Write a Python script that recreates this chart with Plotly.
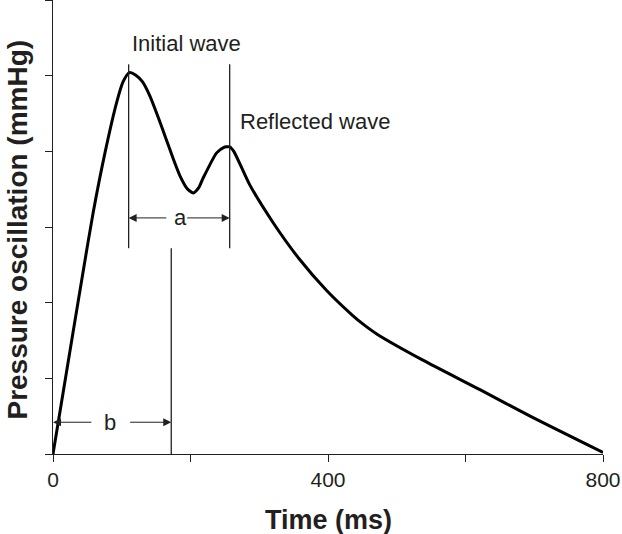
import plotly.graph_objects as go

# ---- data ----
time_ms = [0, 14.5, 29, 43.6, 58.2, 75.6, 93, 102, 111, 120, 130, 141, 153, 165, 175, 185, 195, 204, 212, 218,
           238, 248, 257, 263, 286, 320, 358, 398, 436, 452, 472, 538, 621, 694, 800]
pressure = [0, 0.80, 1.60, 2.40, 3.18, 3.98, 4.66, 4.92, 5.04, 5.01, 4.92, 4.73, 4.45, 4.15, 3.90, 3.67, 3.51, 3.45,
            3.52, 3.64, 3.98, 4.05, 4.06, 4.0, 3.56, 3.06, 2.58, 2.16, 1.83, 1.71, 1.58, 1.24, 0.85, 0.50, 0.02]

x_tick_vals = [0, 200, 400, 600, 800]
x_tick_text = ["0", "", "400", "", "800"]
y_tick_vals = [0, 1, 2, 3, 4, 5, 6]

initial_peak_t = 110
reflected_peak_t = 257
b_marker_t = 172

INK = "#231f20"
FONT = "Liberation Sans, Arial, sans-serif"

fig = go.Figure()
fig.add_trace(go.Scatter(x=time_ms, y=pressure, mode="lines",
                         line=dict(color="black", width=3, shape="spline", smoothing=0.6),
                         hoverinfo="skip", showlegend=False))

shapes = []
for t in (initial_peak_t, reflected_peak_t):
    shapes.append(dict(type="line", xref="x", yref="y", x0=t, x1=t, y0=2.72, y1=5.15,
                       line=dict(color=INK, width=1.3)))
shapes.append(dict(type="line", xref="x", yref="y", x0=b_marker_t, x1=b_marker_t, y0=0, y1=2.72,
                   line=dict(color=INK, width=1.3)))

ann = []
def arrow(head, tail, y):
    ann.append(dict(x=head, y=y, ax=tail, ay=y, xref="x", yref="y", axref="x", ayref="y",
                    text="", showarrow=True, arrowhead=2, arrowsize=1.6, arrowwidth=1,
                    arrowcolor=INK, standoff=0, startstandoff=0))

# interval a
arrow(initial_peak_t, 167, 3.12)
arrow(reflected_peak_t, 193, 3.12)
ann.append(dict(x=(initial_peak_t + reflected_peak_t) / 2 + 2, y=3.12, text="a", showarrow=False,
                xref="x", yref="y", font=dict(size=22, color=INK, family=FONT)))
# interval b
arrow(0, 58, 0.42)
arrow(b_marker_t, 110, 0.42)
ann.append(dict(x=83, y=0.42, text="b", showarrow=False, xref="x", yref="y",
                font=dict(size=22, color=INK, family=FONT)))

ann.append(dict(x=initial_peak_t + 2, y=5.42, text="Initial wave", showarrow=False, xref="x", yref="y",
                xanchor="left", font=dict(size=22, color=INK, family=FONT)))
ann.append(dict(x=reflected_peak_t + 12, y=4.4, text="Reflected wave", showarrow=False, xref="x", yref="y",
                xanchor="left", font=dict(size=22, color=INK, family=FONT)))

# axis titles placed as paper-anchored text
ann.append(dict(x=0.5, y=-0.145, xref="paper", yref="paper", text="<b>Time (ms)</b>",
                showarrow=False, xanchor="center", yanchor="middle",
                font=dict(size=27, color=INK, family=FONT)))
ann.append(dict(x=-0.064, y=0.494, xref="paper", yref="paper", text="<b>Pressure oscillation (mmHg)</b>",
                showarrow=False, xanchor="center", yanchor="middle", textangle=-90,
                font=dict(size=28, color=INK, family=FONT)))

fig.update_layout(
    width=622, height=534,
    margin=dict(l=53, r=19, t=0, b=80),
    paper_bgcolor="white", plot_bgcolor="white",
    shapes=shapes, annotations=ann,
    font=dict(family=FONT, color=INK),
    xaxis=dict(range=[0, 800], tickvals=x_tick_vals, ticktext=x_tick_text,
               ticks="outside", ticklen=7, tickwidth=1.3, tickcolor=INK,
               showline=True, linecolor=INK, linewidth=1.3, showgrid=False, zeroline=False,
               tickfont=dict(size=21, color=INK, family=FONT), automargin=False),
    yaxis=dict(range=[0, 6], tickvals=y_tick_vals, showticklabels=False,
               ticks="outside", ticklen=7, tickwidth=1.3, tickcolor=INK,
               showline=True, linecolor=INK, linewidth=1.3, showgrid=False, zeroline=False,
               automargin=False),
)

fig.write_html("out.html", config={"displayModeBar": False},
               post_script="document.body.style.margin='0';document.body.style.overflow='hidden';")
